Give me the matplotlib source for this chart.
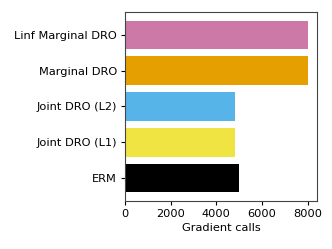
import matplotlib
matplotlib.use("Agg")
import matplotlib.pyplot as plt

methods = ["ERM", "Joint DRO (L1)", "Joint DRO (L2)", "Marginal DRO", "Linf Marginal DRO"]
grad_calls = [5000, 4800, 4800, 8000, 8000]
colors = ["#000000", "#F0E442", "#56B4E9", "#E69F00", "#CC79A7"]

plt.rcParams['font.size'] = 8.2
plt.rcParams['xtick.major.size'] = 3
plt.rcParams['ytick.major.size'] = 3
plt.rcParams['xtick.major.pad'] = 2.8
plt.rcParams['ytick.major.pad'] = 2.8
plt.rcParams['axes.labelpad'] = 3

fig = plt.figure(figsize=(3.32, 2.49), dpi=100)
ax = fig.add_axes([0.3765, 0.193, 0.578, 0.759])
ax.barh(methods, grad_calls, color=colors, height=0.8)
ax.set_xlabel("Gradient calls")
ax.set_xticks([0, 2000, 4000, 6000, 8000])
for s in ax.spines.values():
    s.set_edgecolor("#444444")

fig.savefig("out.png", dpi=100)
